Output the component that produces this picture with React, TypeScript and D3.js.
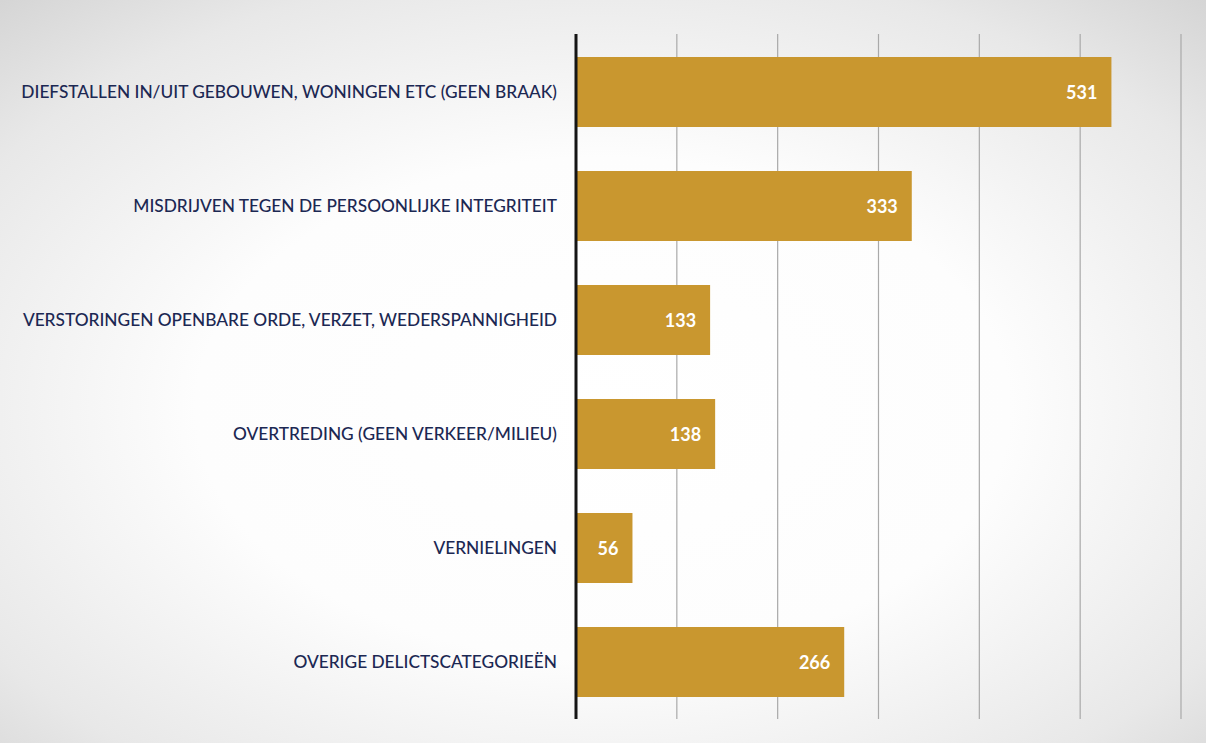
import React from "react";
import * as d3 from "d3";

const categories = [
  "DIEFSTALLEN IN/UIT GEBOUWEN, WONINGEN ETC (GEEN BRAAK)",
  "MISDRIJVEN TEGEN DE PERSOONLIJKE INTEGRITEIT",
  "VERSTORINGEN OPENBARE ORDE, VERZET, WEDERSPANNIGHEID",
  "OVERTREDING (GEEN VERKEER/MILIEU)",
  "VERNIELINGEN",
  "OVERIGE DELICTSCATEGORIEËN",
];
const values = [531, 333, 133, 138, 56, 266];
const tickValues = [0, 100, 200, 300, 400, 500, 600];

const W = 1206;
const H = 743;

export default function App() {
  const x = d3.scaleLinear().domain([0, 600]).range([576, 1181]);
  const y = d3
    .scaleBand<string>()
    .domain(categories)
    .range([35, 719])
    .paddingInner(0.386)
    .paddingOuter(0.193);
  const axisTop = 34;
  const axisBottom = 719;
  const font = "Lato, 'Open Sans', sans-serif";

  return (
    <svg
      width={W}
      height={H}
      style={{ position: "absolute", left: 0, top: 0, display: "block" }}
    >
      <defs>
        <radialGradient id="bg" cx="0.5" cy="0.55" r="0.75">
          <stop offset="0" stopColor="#ffffff" />
          <stop offset="0.45" stopColor="#fdfdfd" />
          <stop offset="0.8" stopColor="#e8e8e8" />
          <stop offset="1" stopColor="#d4d4d4" />
        </radialGradient>
      </defs>
      <rect x={0} y={0} width={W} height={H} fill="url(#bg)" />
      {/* gridlines */}
      {tickValues.slice(1).map((t) => (
        <line
          key={`g${t}`}
          x1={x(t)}
          x2={x(t)}
          y1={axisTop}
          y2={axisBottom}
          stroke="#a9a9a9"
          strokeWidth={1.2}
        />
      ))}
      {/* bars */}
      {categories.map((c, i) => (
        <rect
          key={`b${i}`}
          x={x(0)}
          y={y(c)!}
          width={x(values[i]) - x(0)}
          height={y.bandwidth()}
          fill="#c9972f"
        />
      ))}
      {/* value labels */}
      {categories.map((c, i) => (
        <text
          key={`v${i}`}
          x={x(values[i]) - 14}
          y={y(c)! + y.bandwidth() / 2 + 6.5}
          textAnchor="end"
          fill="#ffffff"
          fontFamily={font}
          fontWeight={700}
          fontSize={18}
        >
          {values[i]}
        </text>
      ))}
      {/* category labels */}
      {categories.map((c, i) => (
        <text
          key={`c${i}`}
          x={557}
          y={y(c)! + y.bandwidth() / 2 + 6}
          textAnchor="end"
          fill="#1c2853"
          fontFamily={font}
          fontWeight={500}
          fontSize={17.3}
        >
          {c}
        </text>
      ))}
      {/* axis line */}
      <line
        x1={x(0)}
        x2={x(0)}
        y1={axisTop}
        y2={axisBottom}
        stroke="#151515"
        strokeWidth={3}
      />
    </svg>
  );
}
